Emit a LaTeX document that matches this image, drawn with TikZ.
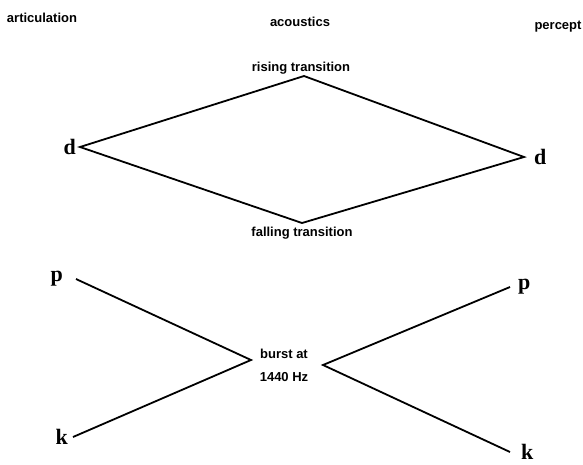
\documentclass[tikz,border=0pt]{standalone}
\usepackage{fontspec}
\setmainfont{Liberation Serif}
\setsansfont{Liberation Sans}
\usepackage{tikz}
\usetikzlibrary{positioning}

\tikzset{
  lbl/.style={font=\sffamily\bfseries\fontsize{13}{16}\selectfont,inner sep=1pt},
  phon/.style={font=\bfseries\fontsize{22}{22}\selectfont,inner sep=2pt},
  cue/.style={draw,line width=1.8pt,line join=miter}
}

\begin{document}
\begin{tikzpicture}[x=1pt,y=-1pt]
  \useasboundingbox (0,0) rectangle (583,464);
  %headings
  \node[lbl] (art) at (42,18) {articulation};
  \node[lbl] (aco) at (300,22) {acoustics};
  \node[lbl] (per) at (558,27) {percept};

  %top
  \coordinate (rise) at (304,76);
  \coordinate (fall) at (302,223);
  \node[phon,anchor=east,inner xsep=4pt] (dl) at (80,147) {d};
  \node[phon,anchor=west,inner xsep=10pt] (dr) at (524,157) {d};
  \node[lbl,at=(rise),above=1pt,xshift=-3pt] (risetxt) {rising transition};
  \node[lbl,at=(fall),below=3pt] (falltxt) {falling transition};
  \draw[cue] (dl.east) -- (rise) -- (dr.west) -- (fall) -- cycle;

  %bottom
  \node[lbl,align=center] (burst) at (284,365) {burst at\\[7pt]1440 Hz};
  \coordinate (bin) at (251,360);
  \coordinate (bout) at (323,365);
  \node[phon,anchor=east,inner xsep=13pt] (pl) at (76,279) {p};
  \node[phon,anchor=east,inner xsep=5pt] (kl) at (73,437) {k};
  \node[phon,anchor=west,inner xsep=8pt] (pr) at (510,287) {p};
  \node[phon,anchor=west,inner xsep=11pt] (kr) at (510,452) {k};
  \draw[cue] (pl.east) -- (bin) -- (kl.east);
  \draw[cue] (pr.west) -- (bout) -- (kr.west);
\end{tikzpicture}
\end{document}
